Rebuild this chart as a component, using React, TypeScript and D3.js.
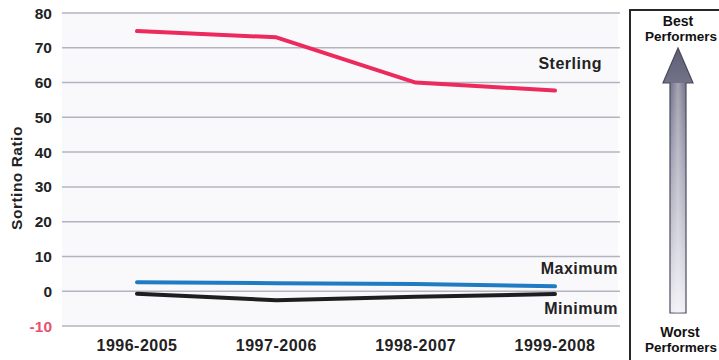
import React from "react";
import * as d3 from "d3";

const periods = ["1996-2005", "1997-2006", "1998-2007", "1999-2008"];
const sterling = [74.8, 73.0, 60.0, 57.7];
const maximum = [2.6, 2.3, 2.1, 1.4];
const minimum = [-0.7, -2.6, -1.6, -0.8];
const yTicks = [80, 70, 60, 50, 40, 30, 20, 10, 0, -10];

const W = 719;
const H = 360;
const FONT = "Liberation Sans, Arial, sans-serif";

export default function App() {
  const x = d3.scalePoint<string>().domain(periods).range([137, 555]);
  const y = d3.scaleLinear().domain([-10, 80]).range([326, 13]);
  const line = d3
    .line<number>()
    .x((_, i) => x(periods[i]) as number)
    .y((d) => y(d));

  const series = [
    { name: "Sterling", values: sterling, color: "#ec2a5e", lx: 602, ly: 69 },
    { name: "Maximum", values: maximum, color: "#1f7cc4", lx: 618, ly: 274 },
    { name: "Minimum", values: minimum, color: "#1e1e1e", lx: 618, ly: 314 },
  ];

  const ax = 678; // arrow centre x
  return (
    <svg
      width={W}
      height={H}
      style={{ position: "absolute", left: 0, top: 0, background: "#fff" }}
      fontFamily={FONT}
    >
      <defs>
        <linearGradient id="arrowFill" x1="0" y1="0" x2="0" y2="1">
          <stop offset="0" stopColor="#5e5e76" />
          <stop offset="0.4" stopColor="#9a9aae" />
          <stop offset="1" stopColor="#eeeef4" />
        </linearGradient>
        <linearGradient id="shaftSheen" x1="0" y1="0" x2="1" y2="0">
          <stop offset="0" stopColor="#ffffff" stopOpacity="0" />
          <stop offset="0.5" stopColor="#ffffff" stopOpacity="0.35" />
          <stop offset="1" stopColor="#ffffff" stopOpacity="0" />
        </linearGradient>
      </defs>

      {/* plot background */}
      <rect x={62} y={13} width={556} height={313} fill="#f9f9fc" />

      {/* gridlines */}
      {yTicks.map((t) => (
        <line
          key={t}
          x1={62}
          x2={620}
          y1={y(t)}
          y2={y(t)}
          stroke="#b4b4be"
          strokeWidth={1.5}
        />
      ))}

      {/* y tick labels */}
      {yTicks.map((t) => (
        <text
          key={t}
          x={52}
          y={y(t)}
          dy="0.36em"
          textAnchor="end"
          fontSize={15.5}
          fontWeight="bold"
          fill={t < 0 ? "#e8506e" : "#222"}
        >
          {t}
        </text>
      ))}

      <text
        transform={`translate(22,178) rotate(-90)`}
        textAnchor="middle"
        fontSize={15.5}
        fontWeight="bold"
        letterSpacing={0.5}
        fill="#222"
      >
        Sortino Ratio
      </text>

      {/* x labels */}
      {periods.map((p) => (
        <text
          key={p}
          x={x(p)}
          y={351}
          textAnchor="middle"
          fontSize={16}
          fontWeight="bold"
          letterSpacing={0.5}
          fill="#222"
        >
          {p}
        </text>
      ))}

      {/* series lines */}
      {series.map((s) => (
        <path
          key={s.name}
          d={line(s.values) || ""}
          fill="none"
          stroke={s.color}
          strokeWidth={4}
          strokeLinecap="round"
          strokeLinejoin="round"
        />
      ))}

      {/* series labels */}
      {series.map((s) => (
        <text
          key={s.name}
          x={s.lx}
          y={s.ly}
          textAnchor="end"
          fontSize={16}
          fontWeight="bold"
          letterSpacing={0.5}
          fill="#222"
        >
          {s.name}
        </text>
      ))}

      {/* performance panel */}
      <rect
        x={630}
        y={10}
        width={120}
        height={360}
        fill="#fff"
        stroke="#111"
        strokeWidth={1.8}
      />
      <text x={ax} y={26} textAnchor="middle" fontSize={14} fontWeight="bold" fill="#111">
        Best
      </text>
      <text x={681} y={41} textAnchor="middle" fontSize={13.5} fontWeight="bold" fill="#111">
        Performers
      </text>
      <path
        d={`M${ax},48 L${ax + 15},83 L${ax + 8},83 L${ax + 8},313 L${ax - 8},313 L${ax - 8},83 L${ax - 15},83 Z`}
        fill="url(#arrowFill)"
        stroke="#4a4a5e"
        strokeWidth={1.2}
      />
      <rect x={ax - 8} y={83} width={16} height={230} fill="url(#shaftSheen)" />
      <text x={680} y={337} textAnchor="middle" fontSize={14} fontWeight="bold" fill="#111">
        Worst
      </text>
      <text x={681} y={352} textAnchor="middle" fontSize={13.5} fontWeight="bold" fill="#111">
        Performers
      </text>
    </svg>
  );
}
